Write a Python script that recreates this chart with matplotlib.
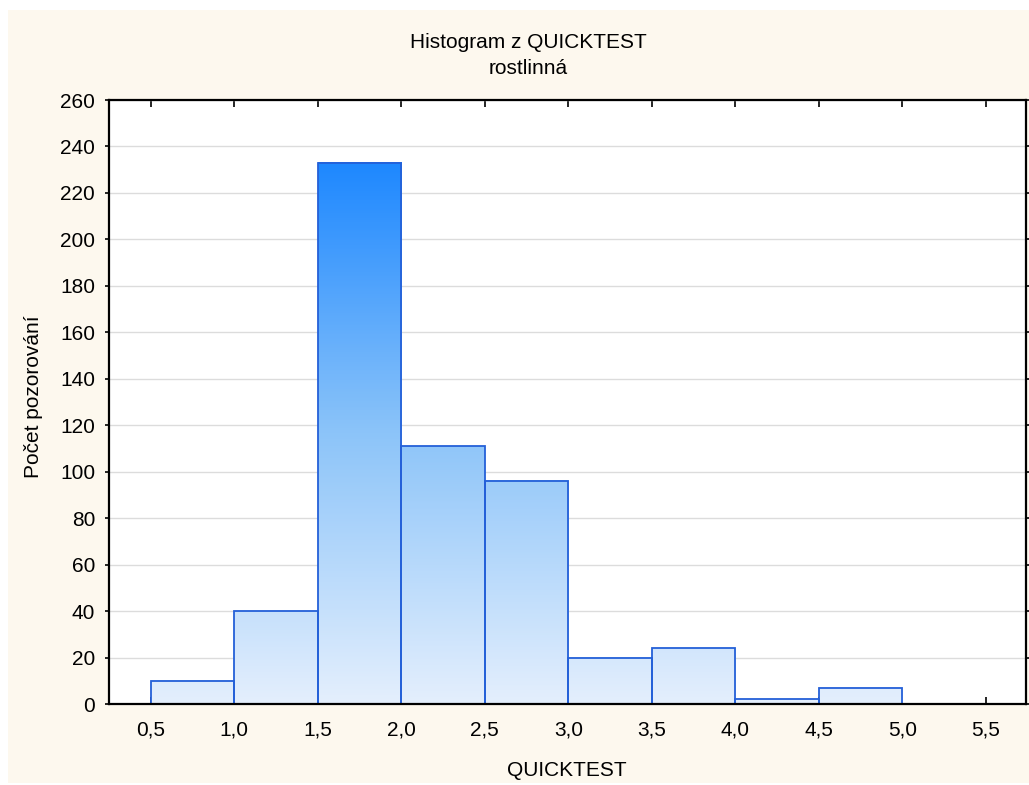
import numpy as np
import matplotlib
matplotlib.use("Agg")
import matplotlib.pyplot as plt
from matplotlib.patches import Rectangle
from matplotlib.colors import LinearSegmentedColormap
from matplotlib.ticker import FuncFormatter

plt.rcParams['font.family'] = ['Liberation Sans', 'DejaVu Sans']

# data
bin_left = [0.5, 1.0, 1.5, 2.0, 2.5, 3.0, 3.5, 4.0, 4.5, 5.0]
counts = [10, 40, 233, 111, 96, 20, 24, 2, 7, 0]
bin_width = 0.5
x_ticks = [0.5, 1.0, 1.5, 2.0, 2.5, 3.0, 3.5, 4.0, 4.5, 5.0, 5.5]
y_ticks = list(range(0, 261, 20))
title = "Histogram z QUICKTEST"
subtitle = "rostlinná"
xlabel = "QUICKTEST"
ylabel = "Počet pozorování"

FS = 15
W, H = 1029, 785
fig = plt.figure(figsize=(W / 100, H / 100), dpi=100)
fig.patch.set_facecolor("white")
fig.add_artist(Rectangle((8 / W, 1 - 783 / H), (W - 8) / W, (783 - 10) / H,
                         transform=fig.transFigure, facecolor="#FDF8EE",
                         edgecolor="none", zorder=0))

ax = fig.add_axes([109 / W, 1 - 704 / H, (1026 - 109) / W, (704 - 100) / H])
ax.set_facecolor("white")

cmap = LinearSegmentedColormap.from_list("g", ["#E4EFFD", "#8CC4F9", "#1E88FF"])
ymax = max(counts)
bars = ax.bar(bin_left, counts, width=bin_width, align="edge",
              facecolor="none", edgecolor="#2460D8", linewidth=1.3, zorder=3)
for b, h in zip(bars, counts):
    if h <= 0:
        continue
    x0 = b.get_x()
    grad = np.linspace(0, h / ymax, 200).reshape(-1, 1)
    ax.imshow(grad, extent=(x0, x0 + bin_width, 0, h), origin="lower",
              aspect="auto", cmap=cmap, vmin=0, vmax=1, zorder=2,
              interpolation="bilinear")
ax.set_xlim(0.25, 5.74)
ax.set_ylim(0, 260)

ax.yaxis.grid(True, color="#DCDCDC", linewidth=1.0, zorder=1)
ax.set_axisbelow(True)

ax.set_xticks(x_ticks)
ax.set_yticks(y_ticks)
ax.xaxis.set_major_formatter(FuncFormatter(lambda v, p: f"{v:.1f}".replace(".", ",")))
ax.tick_params(axis="x", direction="in", top=True, length=5, width=1.2,
               labelsize=FS, pad=12, color="black")
ax.tick_params(axis="y", direction="out", right=True, length=3, width=1.2,
               labelsize=FS, pad=7, color="black")
for s in ax.spines.values():
    s.set_linewidth(1.6)
    s.set_color("black")
    s.set_zorder(5)

fig.text(528 / W, 1 - 42 / H, title, ha="center", va="center", fontsize=FS)
fig.text(528 / W, 1 - 68 / H, subtitle, ha="center", va="center", fontsize=FS)
fig.text(567 / W, 1 - 770 / H, xlabel, ha="center", va="center", fontsize=FS)
fig.text(34 / W, 1 - 397 / H, ylabel, ha="center", va="center", fontsize=FS, rotation=90)

fig.savefig("out.png", dpi=100)
